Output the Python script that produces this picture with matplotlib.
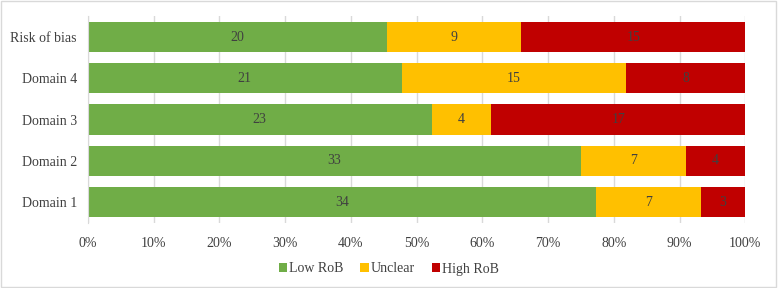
import numpy as np
import matplotlib.pyplot as plt
from matplotlib.patches import Rectangle

plt.rcParams['font.family'] = ['Liberation Serif', 'DejaVu Serif']

categories = ["Domain 1", "Domain 2", "Domain 3", "Domain 4", "Risk of bias"]
low_rob = [34, 33, 23, 21, 20]
unclear = [7, 7, 4, 15, 9]
high_rob = [3, 4, 17, 8, 15]
series_names = ["Low RoB", "Unclear", "High RoB"]
colors = ["#70AD47", "#FFC000", "#C00000"]

counts = np.array([low_rob, unclear, high_rob], dtype=float)
totals = counts.sum(axis=0)
shares = counts / totals * 100

fig = plt.figure(figsize=(7.78, 2.88), dpi=100)
fig.patch.set_facecolor("white")
fig.patches.append(Rectangle((0.001, 0.002), 0.997, 0.995, transform=fig.transFigure,
                             fill=False, edgecolor="#d9d9d9", linewidth=1))
ax = fig.add_axes([0.113, 0.227, 0.845, 0.716])

y = np.arange(len(categories))
left = np.zeros(len(categories))
for i in range(3):
    ax.barh(y, shares[i], left=left, height=0.73, color=colors[i],
            label=series_names[i], zorder=2)
    for j in range(len(categories)):
        ax.text(left[j] + shares[i][j] / 2, y[j], f"{int(counts[i][j])}",
                ha="center", va="center", fontsize=10, color="#404040", zorder=3)
    left += shares[i]

ax.set_xlim(0, 100)
ax.set_ylim(-0.5, len(categories) - 0.5)
ax.set_xticks(np.arange(0, 101, 10))
ax.set_xticklabels([f"{v}%" for v in range(0, 101, 10)], fontsize=10, color="#404040")
ax.set_yticks(y)
ax.set_yticklabels(categories, fontsize=10, color="#404040")
ax.tick_params(axis="x", length=0, pad=10)
ax.tick_params(axis="y", length=0, pad=8)
ax.grid(axis="x", color="#d9d9d9", linewidth=1, zorder=0)
for s in ["top", "right", "bottom"]:
    ax.spines[s].set_visible(False)
ax.spines["left"].set_color("#d9d9d9")

fig.legend(loc="lower center", bbox_to_anchor=(0.5, 0.0), ncol=3, frameon=False,
           fontsize=10, handlelength=0.6, handleheight=0.6, handletextpad=0.15,
           columnspacing=1.2, labelcolor="#404040")

plt.savefig("out.png", dpi=100, facecolor="white")
plt.close()
